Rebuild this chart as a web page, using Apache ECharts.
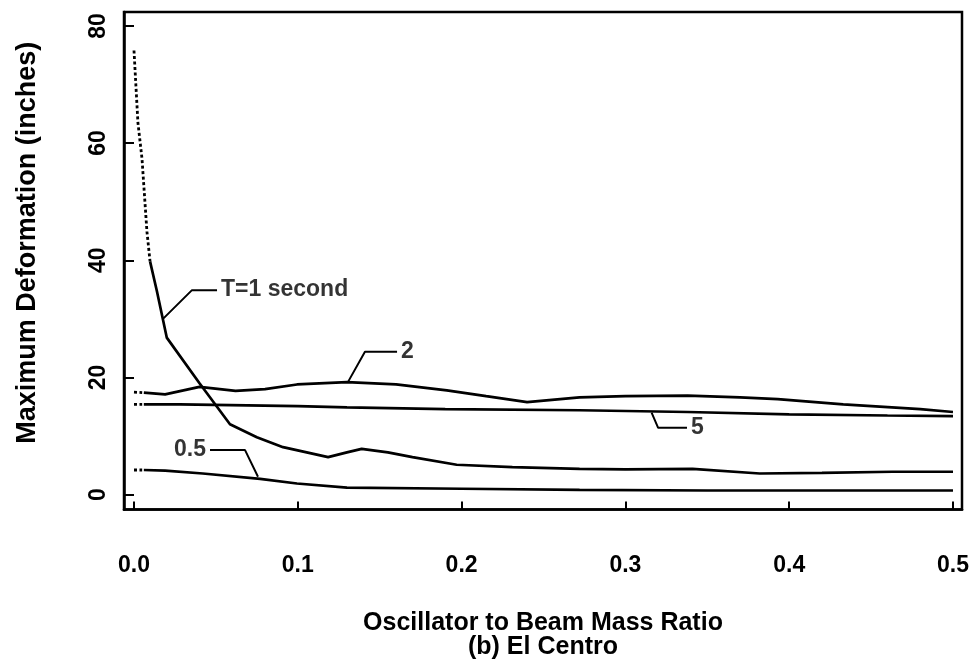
<!DOCTYPE html>
<html>
<head>
<meta charset="utf-8">
<script src="https://cdn.jsdelivr.net/npm/echarts@6/dist/echarts.min.js"></script>
<style>html,body{margin:0;padding:0;background:#fff}#c{width:979px;height:665px}</style>
</head>
<body>
<div id="c"></div>
<script>
// Tick labels
const xTicks = [0, 0.1, 0.2, 0.3, 0.4, 0.5];
const yTicks = [0, 20, 40, 60, 80];

// T = 1 second
const t1DotX = [0.0, 0.0024, 0.0049, 0.0079, 0.0098];
const t1DotY = [75.8, 63.5, 57.3, 44.9, 39.8];
const t1X = [0.0098, 0.014, 0.020, 0.040, 0.0586, 0.075, 0.091, 0.1185, 0.130, 0.139, 0.155, 0.170, 0.197, 0.231, 0.272, 0.30, 0.341, 0.382, 0.42, 0.463, 0.5];
const t1Y = [39.8, 34.7, 26.8, 19.0, 12.0, 9.8, 8.1, 6.4, 7.2, 7.8, 7.2, 6.4, 5.1, 4.7, 4.4, 4.3, 4.4, 3.6, 3.7, 3.9, 3.9];

// T = 2
const t2DotX = [0.0, 0.005];
const t2DotY = [17.5, 17.4];
const t2X = [0.006, 0.019, 0.04, 0.062, 0.08, 0.0995, 0.130, 0.160, 0.191, 0.215, 0.240, 0.272, 0.30, 0.338, 0.37, 0.393, 0.433, 0.48, 0.5];
const t2Y = [17.4, 17.1, 18.4, 17.7, 18.0, 18.8, 19.2, 18.8, 17.8, 16.8, 15.8, 16.6, 16.8, 16.9, 16.6, 16.3, 15.4, 14.6, 14.1];

// T = 5
const t5DotX = [0.0, 0.005];
const t5DotY = [15.4, 15.4];
const t5X = [0.006, 0.028, 0.1, 0.13, 0.19, 0.272, 0.338, 0.40, 0.46, 0.5];
const t5Y = [15.4, 15.4, 15.1, 14.9, 14.6, 14.4, 14.1, 13.7, 13.5, 13.4];

// T = 0.5
const t05DotX = [0.0, 0.005];
const t05DotY = [4.2, 4.2];
const t05X = [0.006, 0.019, 0.042, 0.077, 0.0995, 0.13, 0.2, 0.272, 0.35, 0.5];
const t05Y = [4.2, 4.1, 3.6, 2.7, 1.9, 1.2, 1.0, 0.8, 0.7, 0.7];

// Annotation leaders (curve point -> bend -> text anchor) and texts
const annT1X = [0.0177, 0.0354, 0.0507];
const annT1Y = [30.0, 34.9, 34.9];
const annT2X = [0.1306, 0.141, 0.1606];
const annT2Y = [19.2, 24.4, 24.4];
const annT5X = [0.316, 0.320, 0.3376];
const annT5Y = [14.0, 11.4, 11.4];
const annT05X = [0.0757, 0.0678, 0.0464];
const annT05Y = [3.05, 7.6, 7.6];
const annTexts = ['T=1 second', '2', '5', '0.5'];

const FONT = 'Liberation Sans';
const zip = (xs, ys) => xs.map((x, i) => [x, ys[i]]);
const solid = { color: '#000', width: 2.7, type: 'solid' };
const dotted = { color: '#000', width: 2.8, type: [3, 2.5] };

function lineSeries(name, xs, ys, style) {
  return { name, type: 'line', data: zip(xs, ys), symbol: 'none', silent: true,
    lineStyle: style, animation: false, z: 3 };
}
function leader(name, xs, ys, text, pos) {
  const d = zip(xs, ys);
  return [
    { name: name + '-lead', type: 'line', data: d, symbol: 'none', silent: true,
      lineStyle: { color: '#000', width: 2 }, animation: false, z: 3 },
    { name: name + '-text', type: 'scatter', data: [d[d.length - 1]], symbolSize: 0, silent: true, animation: false,
      label: { show: true, position: pos, distance: 4, formatter: text, color: '#000',
        fontFamily: FONT, fontSize: 23, fontWeight: 'bold' } }
  ];
}

const chart = echarts.init(document.getElementById('c'), null, { renderer: 'canvas' });
chart.setOption({
  backgroundColor: '#fff',
  animation: false,
  grid: { left: 124, right: 17, top: 12, bottom: 152, show: true, borderColor: '#000', borderWidth: 2.5, containLabel: false },
  xAxis: {
    type: 'value', min: -0.0061, max: 0.5055,
    name: 'Oscillator to Beam Mass Ratio\n(b) El Centro',
    nameLocation: 'middle', nameGap: 102,
    nameTextStyle: { fontFamily: FONT, fontSize: 25, color: '#000', lineHeight: 24, fontWeight: 'bold' },
    axisLine: { show: true, onZero: false, lineStyle: { color: '#000', width: 2.5 } },
    axisTick: { show: true, inside: true, length: 8, lineStyle: { color: '#000', width: 2 }, customValues: xTicks },
    axisLabel: { show: true, margin: 45, fontFamily: FONT, fontSize: 23, fontWeight: 'bold', color: '#000', customValues: xTicks,
      formatter: v => v.toFixed(1) },
    splitLine: { show: false }
  },
  yAxis: {
    type: 'value', min: -2.54, max: 82.37,
    name: 'Maximum Deformation (inches)',
    nameLocation: 'middle', nameGap: 83, nameRotate: 90,
    nameTextStyle: { fontFamily: FONT, fontSize: 27, color: '#000', fontWeight: 'bold', padding: [0, 0, 0, 36] },
    axisLine: { show: true, onZero: false, lineStyle: { color: '#000', width: 2.5 } },
    axisTick: { show: true, inside: true, length: 10, lineStyle: { color: '#000', width: 2 }, customValues: yTicks },
    axisLabel: { show: true, rotate: 90, margin: 14, fontFamily: FONT, fontSize: 23, fontWeight: 'bold', color: '#000', customValues: yTicks },
    splitLine: { show: false }
  },
  series: [
    lineSeries('T1 dotted', t1DotX, t1DotY, dotted),
    lineSeries('T=1 second', t1X, t1Y, solid),
    lineSeries('2 dotted', t2DotX, t2DotY, dotted),
    lineSeries('2', t2X, t2Y, solid),
    lineSeries('5 dotted', t5DotX, t5DotY, dotted),
    lineSeries('5', t5X, t5Y, solid),
    lineSeries('0.5 dotted', t05DotX, t05DotY, dotted),
    lineSeries('0.5', t05X, t05Y, solid),
    ...leader('annT1', annT1X, annT1Y, annTexts[0], 'right'),
    ...leader('annT2', annT2X, annT2Y, annTexts[1], 'right'),
    ...leader('annT5', annT5X, annT5Y, annTexts[2], 'right'),
    ...leader('annT05', annT05X, annT05Y, annTexts[3], 'left')
  ]
});
</script>
</body>
</html>
